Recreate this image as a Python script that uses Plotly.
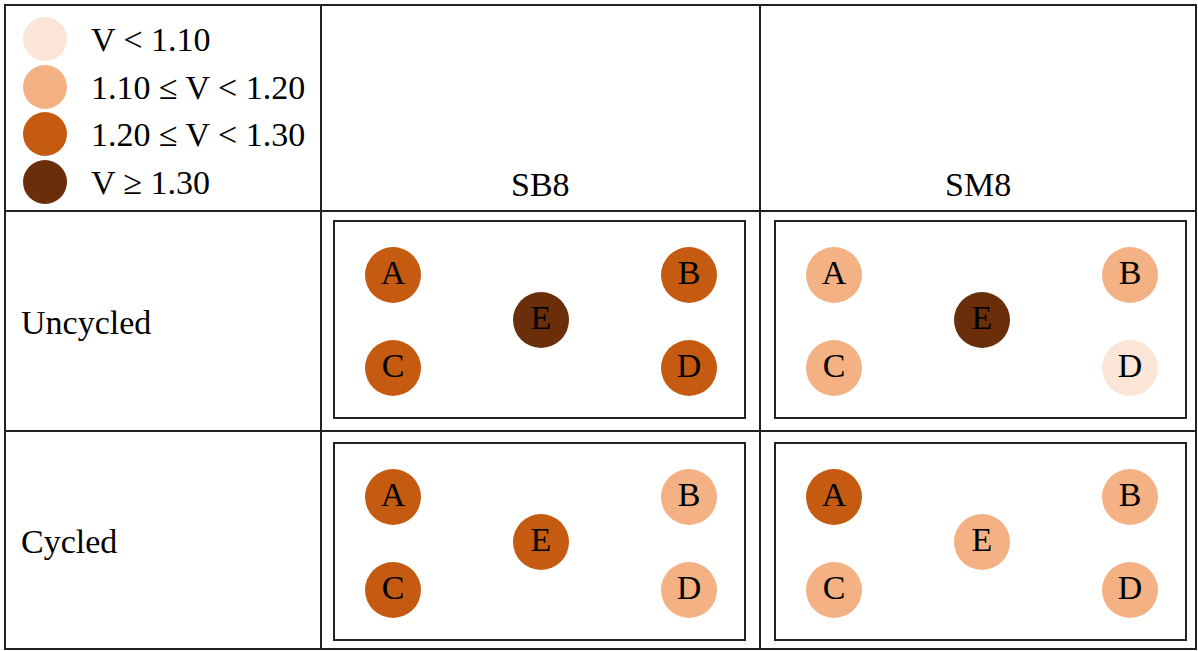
import plotly.graph_objects as go

# ---- data ----
columns = ["SB8", "SM8"]
rows = ["Uncycled", "Cycled"]
sites = ["A", "B", "C", "D", "E"]

bin_labels = ["V < 1.10", "1.10 ≤ V < 1.20", "1.20 ≤ V < 1.30", "V ≥ 1.30"]
bin_colors = ["#FBE5D6", "#F4B183", "#C55A11", "#6A2E0A"]

# bin index (into bin_labels) per site A..E
sb8_uncycled = [2, 2, 2, 2, 3]
sm8_uncycled = [1, 1, 1, 0, 3]
sb8_cycled = [2, 1, 2, 1, 2]
sm8_cycled = [2, 1, 1, 1, 1]

cells = {
    ("Uncycled", "SB8"): sb8_uncycled,
    ("Uncycled", "SM8"): sm8_uncycled,
    ("Cycled", "SB8"): sb8_cycled,
    ("Cycled", "SM8"): sm8_cycled,
}

# ---- layout geometry (pixel space) ----
W, H = 1198, 651
col_edges = [5, 321, 760, 1196]
row_edges = [5, 211, 431, 649]
line_col = "#222222"
font_family = "Liberation Serif, Times New Roman, serif"
fs = 34

# site offsets inside each inner box (from box's top-left corner)
site_dx = {"A": 59, "B": 355, "C": 59, "D": 355, "E": 207}
site_dy = {"A": 54, "B": 54, "C": 147, "D": 147, "E": 99}

fig = go.Figure()
shapes = []

# table grid
shapes.append(dict(type="rect", x0=col_edges[0], x1=col_edges[-1], y0=row_edges[0], y1=row_edges[-1],
                   line=dict(color=line_col, width=2)))
for x in col_edges[1:-1]:
    shapes.append(dict(type="line", x0=x, x1=x, y0=row_edges[0], y1=row_edges[-1],
                       line=dict(color=line_col, width=2)))
for y in row_edges[1:-1]:
    shapes.append(dict(type="line", x0=col_edges[0], x1=col_edges[-1], y0=y, y1=y,
                       line=dict(color=line_col, width=2)))

# legend in the top-left cell
leg_y = [39, 87, 134, 182]
fig.add_trace(go.Scatter(
    x=[45] * len(bin_labels), y=leg_y, mode="markers",
    marker=dict(size=44, color=bin_colors, line=dict(width=0)),
    hoverinfo="skip", showlegend=False,
))
annotations = []
for lab, y in zip(bin_labels, leg_y):
    annotations.append(dict(x=89, y=y, text=lab, showarrow=False, xanchor="left", yanchor="middle",
                            font=dict(size=fs, family=font_family, color="black")))

# column headers
for j, name in enumerate(columns):
    cx = (col_edges[j + 1] + col_edges[j + 2]) / 2
    annotations.append(dict(x=cx, y=184, text=name, showarrow=False, xanchor="center", yanchor="middle",
                            font=dict(size=fs, family=font_family, color="black")))

# row headers
for i, name in enumerate(rows):
    cy = (row_edges[i + 1] + row_edges[i + 2]) / 2 + 1
    annotations.append(dict(x=19, y=cy, text=name, showarrow=False, xanchor="left", yanchor="middle",
                            font=dict(size=fs, family=font_family, color="black")))

# sample boxes with the five sites
box_left = [334, 775]
box_top = [221, 443]
box_w, box_h = 411, 197
for i, r in enumerate(rows):
    for j, c in enumerate(columns):
        x0, y0 = box_left[j], box_top[i]
        shapes.append(dict(type="rect", x0=x0, x1=x0 + box_w, y0=y0, y1=y0 + box_h,
                           line=dict(color=line_col, width=2)))
        vals = cells[(r, c)]
        fig.add_trace(go.Scatter(
            x=[x0 + site_dx[s] for s in sites],
            y=[y0 + site_dy[s] for s in sites],
            mode="markers+text",
            text=sites,
            textposition="middle center",
            textfont=dict(size=fs, family=font_family, color="black"),
            marker=dict(size=56, color=[bin_colors[v] for v in vals], line=dict(width=0)),
            hovertext=[f"{r} {c} {s}: {bin_labels[v]}" for s, v in zip(sites, vals)],
            hoverinfo="text",
            showlegend=False,
        ))

fig.update_layout(
    width=W, height=H,
    margin=dict(l=0, r=0, t=0, b=0),
    paper_bgcolor="white", plot_bgcolor="white",
    shapes=shapes, annotations=annotations,
    showlegend=False,
)
fig.update_xaxes(range=[0, W], visible=False, fixedrange=True)
fig.update_yaxes(range=[H, 0], visible=False, fixedrange=True)

# drop the browser's default body margin so the figure sits at the page origin
fig.write_html("out.html", post_script="document.body.style.margin='0';",
               config={"displayModeBar": False})
